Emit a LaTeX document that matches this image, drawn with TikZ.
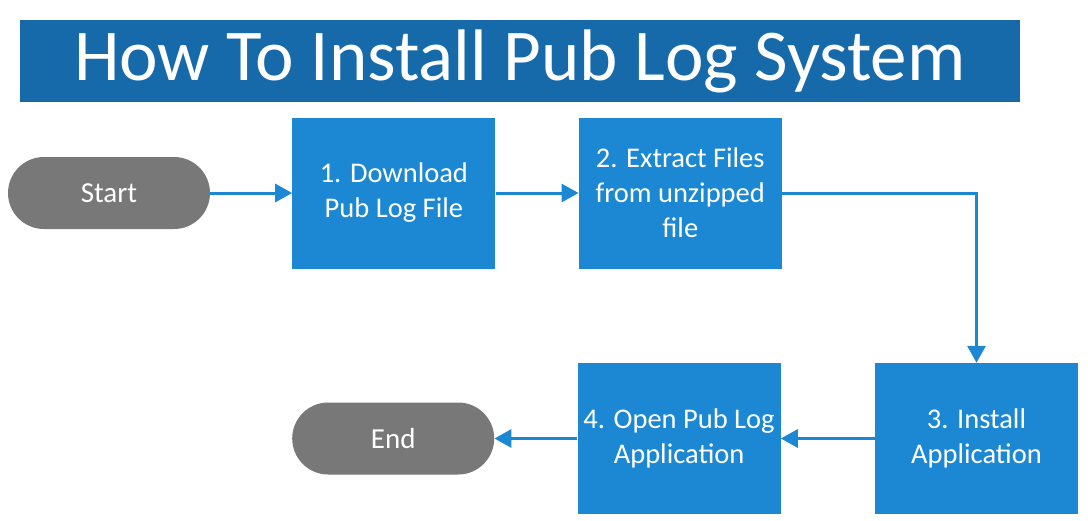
\documentclass[tikz,border=0pt]{standalone}
\usepackage{fontspec}
\setmainfont{Carlito}
\usetikzlibrary{positioning,arrows.meta}
\definecolor{titleblue}{RGB}{22,106,170}
\definecolor{stepblue}{RGB}{28,136,212}
\definecolor{termgray}{RGB}{120,120,120}

\begin{document}
\begin{tikzpicture}[x=1pt,y=1pt,
        stepbox/.style={fill=stepblue, text=white, minimum width=203pt, minimum height=151pt, align=center, font=\fontsize{28.5}{35}\selectfont, inner sep=0pt},
        terminal/.style={fill=termgray, text=white, minimum width=202pt, minimum height=72pt, rounded corners=36pt, font=\fontsize{29}{35}\selectfont},
        flow/.style={stepblue, line width=3pt, -{Triangle[length=17pt,width=18pt]}}]
            \useasboundingbox (0,0) rectangle (1088,-520);
            \node [fill=titleblue, text=white, minimum width=1000pt, minimum height=82pt, font=\fontsize{73}{80}\selectfont] (title) at (520,-61) {How To Install Pub Log System};

            \node [terminal] (start) at (109,-193) {Start};
            \node [stepbox, right=82pt of start] (download) {1. Download\\Pub Log File};
            \node [stepbox, right=83pt of download] (extract) {2. Extract Files\\from unzipped\\file};
            \node [stepbox] (install) at (976.5,-438.5) {3. Install\\Application};
            \node [stepbox, left=94pt of install] (open) {4. Open Pub Log\\Application};
            \node [terminal, left=83pt of open] (end) {End};

            \draw [flow] (start) -- (download);
            \draw [flow] (download) -- (extract);
            \draw [flow] (extract.east) -| (install.north);
            \draw [flow] (install) -- (open);
            \draw [flow] (open) -- (end);
        \end{tikzpicture}
\end{document}
